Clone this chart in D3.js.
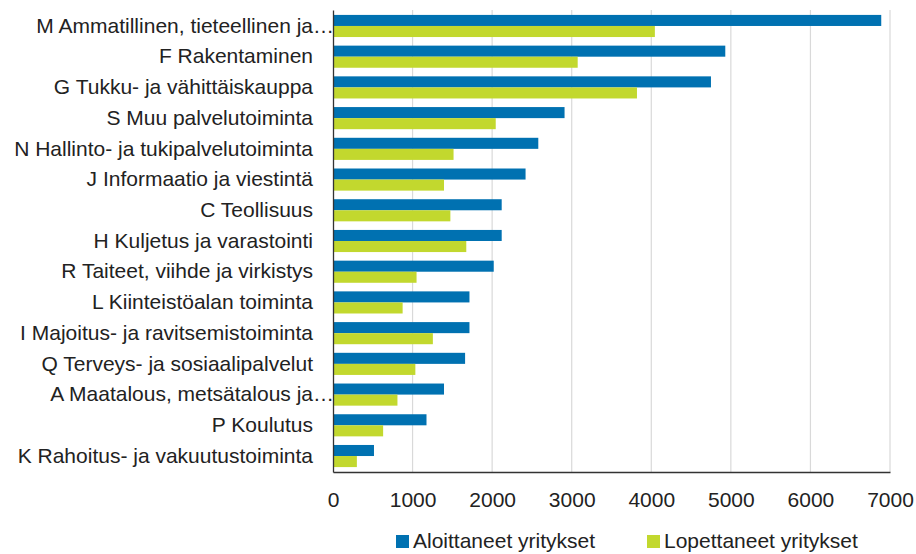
<!DOCTYPE html>
<html>
<head>
<meta charset="utf-8">
<script src="https://cdn.jsdelivr.net/npm/d3@7"></script>
<style>
  body { margin: 0; background: #fff; }
  text { font-family: "Liberation Sans", Arial, sans-serif; fill: #222; }
</style>
</head>
<body>
<div id="chart"></div>
<script>
var categories = [
  "M Ammatillinen, tieteellinen ja…",
  "F Rakentaminen",
  "G Tukku- ja vähittäiskauppa",
  "S Muu palvelutoiminta",
  "N Hallinto- ja tukipalvelutoiminta",
  "J Informaatio ja viestintä",
  "C Teollisuus",
  "H Kuljetus ja varastointi",
  "R Taiteet, viihde ja virkistys",
  "L Kiinteistöalan toiminta",
  "I Majoitus- ja ravitsemistoiminta",
  "Q Terveys- ja sosiaalipalvelut",
  "A Maatalous, metsätalous ja…",
  "P Koulutus",
  "K Rahoitus- ja vakuutustoiminta"
];
var aloittaneet = [6890, 4930, 4750, 2910, 2580, 2420, 2120, 2120, 2020, 1715, 1715, 1660, 1395, 1175, 515];
var lopettaneet = [4045, 3075, 3820, 2045, 1515, 1395, 1475, 1675, 1050, 875, 1255, 1035, 810, 630, 300];
var seriesNames = ["Aloittaneet yritykset", "Lopettaneet yritykset"];
var ticks = [0, 1000, 2000, 3000, 4000, 5000, 6000, 7000];

var colors = ["#0071b1", "#c2d82e"];
var width = 916, height = 554;
var margin = {top: 10, left: 333, right: 26, bottom: 82};
var fontSize = "21px";

var svg = d3.select("#chart").append("svg")
  .attr("width", width)
  .attr("height", height);

var x = d3.scaleLinear().domain([0, 7000]).range([margin.left, width - margin.right]);
var y = d3.scaleBand().domain(categories).range([margin.top, height - margin.bottom]).paddingInner(0.28).paddingOuter(0.16);
var sub = d3.scaleBand().domain([0, 1]).range([0, y.bandwidth()]);

// gridlines
svg.append("g").selectAll("line")
  .data(ticks.slice(1))
  .enter().append("line")
  .attr("x1", function(d) { return x(d); })
  .attr("x2", function(d) { return x(d); })
  .attr("y1", margin.top)
  .attr("y2", height - margin.bottom)
  .attr("stroke", "#d9d9d9")
  .attr("stroke-width", 1.2);

var rows = categories.map(function(c, i) {
  return {cat: c, vals: [aloittaneet[i], lopettaneet[i]]};
});

var g = svg.selectAll("g.row")
  .data(rows)
  .enter().append("g")
  .attr("class", "row")
  .attr("transform", function(d) { return "translate(0," + y(d.cat) + ")"; });

g.selectAll("rect")
  .data(function(d) { return d.vals; })
  .enter().append("rect")
  .attr("x", x(0))
  .attr("y", function(d, i) { return sub(i); })
  .attr("width", function(d) { return x(d) - x(0); })
  .attr("height", sub.bandwidth())
  .style("fill", function(d, i) { return colors[i]; });

// y axis - truncated names keep their "…" hanging past the label edge
var labelGap = 20;
var yAxis = svg.append("g")
  .attr("transform", "translate(" + margin.left + ",0)")
  .call(d3.axisLeft(y).tickSize(0).tickPadding(labelGap).tickFormat(function(d) {
    return d.replace("…", "");
  }));
yAxis.select(".domain").attr("stroke", "#333").attr("stroke-width", 1.3);
yAxis.selectAll("text").style("font-size", fontSize).style("fill", "#222");
yAxis.selectAll(".tick")
  .filter(function(d) { return d.slice(-1) == "…"; })
  .append("text")
  .attr("x", -labelGap)
  .attr("dy", "0.32em")
  .attr("text-anchor", "start")
  .style("font-size", fontSize)
  .style("fill", "#222")
  .text("…");

// x axis
var xAxis = svg.append("g")
  .attr("transform", "translate(0," + (height - margin.bottom) + ")")
  .call(d3.axisBottom(x).tickValues(ticks).tickSize(0).tickPadding(20).tickFormat(d3.format("d")));
xAxis.select(".domain").attr("stroke", "#333").attr("stroke-width", 1.3);
xAxis.selectAll("text").style("font-size", fontSize).style("fill", "#222");

// legend
var legend = svg.append("g").attr("transform", "translate(0,541)");
var lx = [396, 647];
seriesNames.forEach(function(name, i) {
  legend.append("rect")
    .attr("x", lx[i])
    .attr("y", -6)
    .attr("width", 13)
    .attr("height", 13)
    .style("fill", colors[i]);
  legend.append("text")
    .attr("x", lx[i] + 17)
    .attr("y", 0)
    .attr("dy", ".35em")
    .style("font-size", fontSize)
    .text(name);
});
</script>
</body>
</html>
